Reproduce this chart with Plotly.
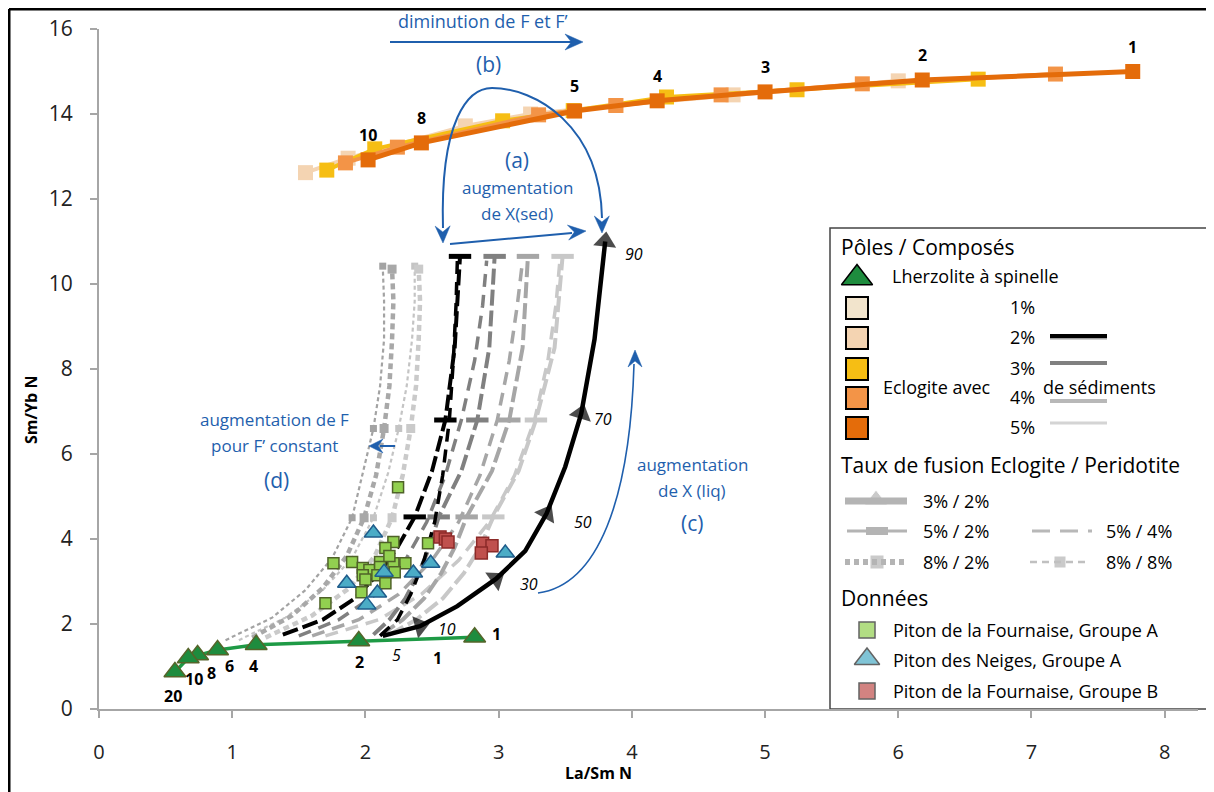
import math
import plotly.graph_objects as go

# ---------------- DATA ----------------
# Eclogite melts (F eclogite %, labels) for 2..5 % sediments
ecl_F = ["1", "2", "3", "4", "5", "8", "10"]
ecl_sed5_x = [7.76, 6.18, 5.00, 4.19, 3.57, 2.42, 2.02]
ecl_sed5_y = [15.00, 14.80, 14.52, 14.31, 14.07, 13.32, 12.92]
ecl_sed4_x = [7.18, 5.73, 4.67, 3.88, 3.30, 2.24, 1.85]
ecl_sed4_y = [14.94, 14.71, 14.45, 14.20, 13.98, 13.22, 12.85]
ecl_sed3_x = [6.60, 5.24, 4.26, 3.56, 3.03, 2.07, 1.71]
ecl_sed3_y = [14.82, 14.57, 14.40, 14.08, 13.84, 13.18, 12.68]
ecl_sed2_x = [6.00, 4.76, 3.88, 3.24, 2.75, 1.87, 1.55]
ecl_sed2_y = [14.78, 14.45, 14.20, 14.00, 13.72, 12.96, 12.62]

# Spinel lherzolite melts (F peridotite %)
lhz_F = ["1", "2", "4", "6", "8", "10", "20"]
lhz_x = [2.82, 1.95, 1.18, 0.89, 0.74, 0.67, 0.57]
lhz_y = [1.69, 1.60, 1.51, 1.39, 1.27, 1.20, 0.87]

# Mixing 3%/2% (2% sediments), % of eclogite liquid 0..90
mix_pct = ["0", "10", "20", "30", "40", "50", "60", "70", "80", "90"]
mix32_x = [2.13, 2.41, 2.69, 2.98, 3.20, 3.36, 3.50, 3.62, 3.72, 3.80]
mix32_y = [1.72, 1.95, 2.42, 3.06, 3.72, 4.60, 5.70, 6.95, 8.70, 11.00]

# Mixing 5%/2% (sediments 2,3,4,5 %)
mix52_y = [1.75, 2.10, 2.60, 3.20, 3.80, 4.52, 5.60, 6.80, 8.50, 10.65]
mix52_sed2_x = [1.38, 1.68, 1.92, 2.10, 2.24, 2.37, 2.50, 2.60, 2.67, 2.71]
mix52_sed3_x = [2.06, 2.18, 2.30, 2.40, 2.48, 2.55, 2.72, 2.84, 2.93, 2.97]
mix52_sed4_x = [2.12, 2.28, 2.44, 2.57, 2.67, 2.76, 2.95, 3.08, 3.18, 3.22]
mix52_sed5_x = [2.18, 2.38, 2.58, 2.74, 2.86, 2.96, 3.15, 3.28, 3.42, 3.48]

# Mixing 5%/4%
mix54_y = [1.72, 2.10, 2.70, 3.50, 4.40, 5.50, 6.80, 8.20, 9.50, 10.55]
mix54_sed2_x = [2.11, 2.24, 2.34, 2.44, 2.52, 2.58, 2.63, 2.66, 2.68, 2.69]
mix54_sed3_x = [1.50, 1.80, 2.08, 2.30, 2.46, 2.60, 2.72, 2.82, 2.88, 2.91]
mix54_sed4_x = [1.60, 1.95, 2.25, 2.50, 2.70, 2.86, 2.99, 3.08, 3.14, 3.18]
mix54_sed5_x = [1.70, 2.10, 2.42, 2.70, 2.93, 3.12, 3.27, 3.37, 3.43, 3.46]

# Mixing 8%/2%
mix82_y = [1.68, 2.20, 2.85, 3.60, 4.50, 5.50, 6.60, 7.60, 8.70, 9.60, 10.35]
mix82_a_x = [1.15, 1.45, 1.68, 1.86, 1.99, 2.08, 2.14, 2.18, 2.20, 2.21, 2.20]
mix82_b_x = [1.25, 1.60, 1.88, 2.07, 2.20, 2.28, 2.34, 2.38, 2.40, 2.41, 2.40]

# Mixing 8%/8%
mix88_y = [1.62, 2.15, 2.80, 3.55, 4.50, 5.55, 6.60, 7.60, 8.70, 9.60, 10.42]
mix88_a_x = [0.95, 1.30, 1.55, 1.75, 1.90, 1.98, 2.06, 2.11, 2.14, 2.14, 2.13]
mix88_b_x = [1.05, 1.40, 1.68, 1.90, 2.06, 2.17, 2.25, 2.31, 2.35, 2.37, 2.37]

# Data
pdf_a_x = [2.245, 1.76, 1.90, 2.21, 2.15, 2.47, 1.98, 2.03, 2.11, 2.11, 2.21, 2.30,
           2.22, 2.09, 1.98, 2.15, 1.97, 1.70, 2.00, 2.18]
pdf_a_y = [5.22, 3.43, 3.46, 3.93, 3.79, 3.90, 3.32, 3.27, 3.46, 3.34, 3.43, 3.43,
           3.22, 3.15, 3.15, 2.96, 2.75, 2.49, 3.05, 3.60]
pdn_a_x = [2.06, 2.49, 2.36, 1.86, 2.09, 2.01, 3.05, 2.14]
pdn_a_y = [4.14, 3.43, 3.20, 2.96, 2.73, 2.45, 3.67, 3.22]
pdf_b_x = [2.56, 2.60, 2.62, 2.88, 2.95, 2.87]
pdf_b_y = [4.05, 4.00, 3.93, 3.90, 3.84, 3.67]

x_ticks = [0, 1, 2, 3, 4, 5, 6, 7, 8]
y_ticks = [0, 2, 4, 6, 8, 10, 12, 14, 16]

# ---------------- LAYOUT GEOMETRY ----------------
# page sits with an 8px body margin: figure is 1206x784
W, H = 1206, 784
ML, MR, MT, MB = 91, 16, 21, 83
XR = [0, 8.25]
YR = [0, 16]
PW, PH = W - ML - MR, H - MT - MB
PAGE_L, PAGE_B = 99, 709  # plot-area left / bottom in page pixels


def dx(px):
    return XR[0] + (px - PAGE_L) / PW * (XR[1] - XR[0])


def dy(py):
    return YR[0] + (PAGE_B - py) / PH * (YR[1] - YR[0])


def px2paper(px):
    return (px - PAGE_L) / PW


def py2paper(py):
    return (PAGE_B - py) / PH


BLUE = "#1F5FAD"
SED_COL = {1: "#F2E4CC", 2: "#F4D4B2", 3: "#F6BE14", 4: "#F39447", 5: "#E46C0A"}
GR = {2: "#000000", 3: "#808080", 4: "#A6A6A6", 5: "#C8C8C8"}

fig = go.Figure()


def line_trace(x, y, color, width, dash):
    fig.add_trace(go.Scatter(x=x, y=y, mode="lines", hoverinfo="skip",
                             line=dict(color=color, width=width, dash=dash),
                             showlegend=False))


def mark_trace(x, y, idx, symbol, color, size, lw=0):
    fig.add_trace(go.Scatter(
        x=[x[i] for i in idx], y=[y[i] for i in idx], mode="markers",
        hoverinfo="skip", showlegend=False,
        marker=dict(symbol=symbol, color=color, size=size,
                    line=dict(color=color, width=lw))))


# 8%/8% and 8%/2% curves (left family)
line_trace(mix88_b_x, mix88_y, "#C4C4C4", 2.2, "4px,3px")
mark_trace(mix88_b_x, mix88_y, [4, 6, 10], "square", "#C4C4C4", 7)
line_trace(mix82_b_x, mix82_y, "#CACACA", 4.5, "6px,4px")
mark_trace(mix82_b_x, mix82_y, [4, 6, 10], "square", "#CACACA", 9)
line_trace(mix88_a_x, mix88_y, "#A3A3A3", 2.2, "4px,3px")
mark_trace(mix88_a_x, mix88_y, [4, 6, 10], "square", "#A3A3A3", 7)
line_trace(mix82_a_x, mix82_y, "#A8A8A8", 4.5, "6px,4px")
mark_trace(mix82_a_x, mix82_y, [4, 6, 10], "square", "#A8A8A8", 9)

# 5%/4% (long dash) and 5%/2% (dash + bar markers)
for sx, col in [(mix54_sed5_x, GR[5]), (mix54_sed4_x, GR[4]), (mix54_sed3_x, GR[3])]:
    line_trace(sx, mix54_y, col, 3.5, "13px,8px")
for sx, col in [(mix52_sed5_x, GR[5]), (mix52_sed4_x, GR[4]), (mix52_sed3_x, GR[3])]:
    line_trace(sx, mix52_y, col, 4, "16px,5px")
    mark_trace(sx, mix52_y, [5, 7, 9], "line-ew", col, 16, 5)
line_trace(mix54_sed2_x, mix54_y, "#000000", 3.5, "13px,8px")
line_trace(mix52_sed2_x, mix52_y, "#000000", 4, "16px,5px")
mark_trace(mix52_sed2_x, mix52_y, [5, 7, 9], "line-ew", "#000000", 16, 5)

# 3%/2% solid black with triangles
tri_sizes = [0 if i % 2 == 0 else 20 for i in range(len(mix32_x))]
fig.add_trace(go.Scatter(
    x=mix32_x, y=mix32_y, mode="lines+markers", hoverinfo="skip", showlegend=False,
    line=dict(color="#000000", width=4.5),
    marker=dict(symbol="triangle-up", size=tri_sizes, color="#000000",
                angle=0, angleref="previous", line=dict(width=0))))

# Lherzolite melting line
fig.add_trace(go.Scatter(
    x=lhz_x, y=lhz_y, mode="lines+markers", hoverinfo="skip", showlegend=False,
    line=dict(color="#1E9A45", width=3.5),
    marker=dict(symbol="triangle-up", size=19, color="#1E8C3E",
                line=dict(color="#55652A", width=1.5))))

# Data points
fig.add_trace(go.Scatter(x=pdf_a_x, y=pdf_a_y, mode="markers", showlegend=False,
                         marker=dict(symbol="square", size=11, color="#92D050",
                                     line=dict(color="#4F6228", width=1.5))))
fig.add_trace(go.Scatter(x=pdn_a_x, y=pdn_a_y, mode="markers", showlegend=False,
                         marker=dict(symbol="triangle-up", size=16, color="#4BACC6",
                                     line=dict(color="#1F5C8B", width=1.5))))
fig.add_trace(go.Scatter(x=pdf_b_x, y=pdf_b_y, mode="markers", showlegend=False,
                         marker=dict(symbol="square", size=12, color="#C0504D",
                                     line=dict(color="#8C2A28", width=1.5))))

# Eclogite melt lines
for ex, ey, s, w in [(ecl_sed2_x, ecl_sed2_y, 2, 4), (ecl_sed3_x, ecl_sed3_y, 3, 4),
                     (ecl_sed4_x, ecl_sed4_y, 4, 4), (ecl_sed5_x, ecl_sed5_y, 5, 5)]:
    fig.add_trace(go.Scatter(x=ex, y=ey, mode="lines+markers", hoverinfo="skip",
                             showlegend=False, line=dict(color=SED_COL[s], width=w),
                             marker=dict(symbol="square", size=15, color=SED_COL[s])))

annotations = []


def txt(text, px, py, size=16, color="black", xanchor="center", bold=False,
        italic=False, family="Open Sans", angle=0):
    t = text
    if bold:
        t = "<b>" + t + "</b>"
    if italic:
        t = "<i>" + t + "</i>"
    annotations.append(dict(x=px2paper(px), y=py2paper(py), xref="paper", yref="paper",
                            text=t, showarrow=False, xanchor=xanchor, yanchor="middle",
                            textangle=angle, borderpad=0,
                            font=dict(size=size, color=color, family=family)))


# labels on eclogite line (above dark-orange points)
for lab, x, y in zip(ecl_F, ecl_sed5_x, ecl_sed5_y):
    annotations.append(dict(x=x, y=y, text="<b>" + lab + "</b>", showarrow=False,
                            yshift=25, font=dict(size=16, color="black", family="Open Sans")))

# labels on lherzolite line
lhz_off = {"1": (22, -3), "2": (1, 21), "4": (-3, 21), "6": (12, 16), "8": (14, 18),
           "10": (6, 21), "20": (-2, 24)}
for lab, x, y in zip(lhz_F, lhz_x, lhz_y):
    ox, oy = lhz_off[lab]
    annotations.append(dict(x=x, y=y, text="<b>" + lab + "</b>", showarrow=False,
                            xshift=ox, yshift=-oy,
                            font=dict(size=16, color="black", family="Open Sans")))

# mixing % labels
mix_off = {"10": (27, 3), "30": (33, 5), "50": (36, 8), "70": (22, 5), "90": (29, 12)}
for lab, x, y in zip(mix_pct, mix32_x, mix32_y):
    if lab in mix_off:
        ox, oy = mix_off[lab]
        annotations.append(dict(x=x, y=y, text="<i>" + lab + "</i>", showarrow=False,
                                xshift=ox, yshift=-oy,
                                font=dict(size=16, color="black", family="Open Sans")))
txt("5", 396, 655, 16, italic=True)
txt("1", 437, 658, 16, bold=True)

# blue annotations
txt("diminution de F et F’", 483, 21, 18, BLUE)
txt("(b)", 488, 64, 21, BLUE)
txt("(a)", 517, 160, 21, BLUE)
txt("augmentation", 517, 188, 17, BLUE)
txt("de X(sed)", 517, 213, 17, BLUE)
txt("augmentation", 692, 465, 17, BLUE)
txt("de X (liq)", 692, 490, 17, BLUE)
txt("(c)", 692, 523, 21, BLUE)
txt("augmentation de F", 274, 420, 17, BLUE)
txt("pour F’ constant", 274, 445, 17, BLUE)
txt("(d)", 276, 480, 21, BLUE)

# axis titles
txt("La/Sm N", 598, 773, 16, bold=True)
txt("Sm/Yb N", 31, 410, 16, bold=True, angle=-90)

shapes = []


def pts(lst):
    return " ".join(f"{dx(a):.4f},{dy(b):.4f}" for a, b in lst)


def path_shape(d, color=BLUE, width=2, fill=None):
    s = dict(type="path", path=d, xref="x", yref="y", line=dict(color=color, width=width))
    if fill:
        s["fillcolor"] = fill
        s["line"] = dict(color=fill, width=0.5)
    shapes.append(s)


def curve_path(p0, c1, c2, p1):
    return (f"M {dx(p0[0]):.4f},{dy(p0[1]):.4f} C {dx(c1[0]):.4f},{dy(c1[1]):.4f} "
            f"{dx(c2[0]):.4f},{dy(c2[1]):.4f} {dx(p1[0]):.4f},{dy(p1[1]):.4f}")


def arrowhead(tip, d, L=16, Wd=14):
    n = math.hypot(*d)
    ux, uy = d[0] / n, d[1] / n
    px_, py_ = -uy, ux
    bx, by = tip[0] - L * ux, tip[1] - L * uy
    nx, ny = tip[0] - 0.65 * L * ux, tip[1] - 0.65 * L * uy
    p = [tip, (bx + Wd / 2 * px_, by + Wd / 2 * py_), (nx, ny),
         (bx - Wd / 2 * px_, by - Wd / 2 * py_)]
    d_ = "M " + " L ".join(f"{dx(a):.4f},{dy(b):.4f}" for a, b in p) + " Z"
    path_shape(d_, fill=BLUE)


# top arrow
path_shape(f"M {pts([(390, 42)])} L {pts([(572, 42)])}")
arrowhead((583, 42), (1, 0), 18, 16)
# arc (b)
path_shape(curve_path((443, 228), (440, 120), (468, 88), (492, 88)))
path_shape(curve_path((492, 88), (535, 88), (600, 125), (602, 218)))
arrowhead((443, 243), (0.02, 1), 17, 15)
arrowhead((602, 233), (0.01, 1), 17, 15)
# straight arrow (a)
path_shape(f"M {pts([(450, 244)])} L {pts([(572, 233)])}")
arrowhead((586, 231), (135, -12), 18, 15)
# arc (c)
path_shape(curve_path((538, 593), (598, 585), (630, 500), (634, 364)), width=1.6)
arrowhead((635, 350), (0.0, -1), 17, 14)
# arrow (d)
path_shape(f"M {pts([(395, 446)])} L {pts([(380, 446)])}")
arrowhead((369, 446), (-1, 0), 14, 14)

# outer frame (left and top)
shapes.append(dict(type="line", xref="paper", yref="paper", x0=px2paper(9), x1=px2paper(1220),
                   y0=py2paper(9), y1=py2paper(9), line=dict(color="black", width=3)))
shapes.append(dict(type="line", xref="paper", yref="paper", x0=px2paper(9), x1=px2paper(9),
                   y0=py2paper(9), y1=py2paper(800), line=dict(color="black", width=3)))

# ---------------- LEGEND (drawn) ----------------
shapes.append(dict(type="rect", xref="paper", yref="paper", x0=px2paper(830), x1=px2paper(1222),
                   y0=py2paper(709), y1=py2paper(228), line=dict(color="#444444", width=1.5),
                   layer="below"))
txt("Pôles / Composés", 840, 247, 21, xanchor="left")
txt("Taux de fusion Eclogite / Peridotite", 840, 465, 21, xanchor="left")
txt("Données", 840, 598, 21, xanchor="left")
txt("Lherzolite à spinelle", 891, 276, 18, xanchor="left")
txt("Eclogite avec", 882, 387, 18, xanchor="left")
txt("de sédiments", 1042, 387, 18, xanchor="left")
sed_pct = ["1%", "2%", "3%", "4%", "5%"]
sed_py = [307, 337, 368, 397, 427]
for lab, py in zip(sed_pct, sed_py):
    txt(lab, 1009, py, 18, xanchor="left")

fig.add_trace(go.Scatter(x=[dx(857)], y=[dy(278)], mode="markers", showlegend=False,
                         hoverinfo="skip", cliponaxis=False,
                         marker=dict(symbol="triangle-up", size=27, color="#1E8C3E",
                                     line=dict(color="black", width=1.5))))
fig.add_trace(go.Scatter(x=[dx(857)] * 5, y=[dy(p) for p in [308, 338, 369, 398, 428]],
                         mode="markers", showlegend=False, hoverinfo="skip",
                         marker=dict(symbol="square", size=22,
                                     color=[SED_COL[i] for i in range(1, 6)],
                                     line=dict(color="black", width=2))))


def lg_line(x0, x1, py, color, width, dash="solid"):
    shapes.append(dict(type="line", xref="x", yref="y", x0=dx(x0), x1=dx(x1),
                       y0=dy(py), y1=dy(py), line=dict(color=color, width=width, dash=dash)))


lg_line(1050, 1107, 338, "#A0A0A0", 3)
lg_line(1050, 1107, 336, "#000000", 4)
lg_line(1050, 1107, 363, "#808080", 4)
lg_line(1050, 1107, 401, "#B8B8B8", 4)
lg_line(1050, 1107, 423, "#D4D4D4", 3)

# fusion-rate legend
lg_line(845, 907, 501, "#B4B4B4", 7)
lg_line(847, 907, 531, "#B4B4B4", 3)
lg_line(866, 888, 531, "#B4B4B4", 8)
lg_line(1032, 1092, 531, "#B8B8B8", 3, "18px,10px")
lg_line(845, 907, 562, "#B4B4B4", 6, "5px,4px")
lg_line(1030, 1090, 562, "#C0C0C0", 2.5, "7px,5px")
fig.add_trace(go.Scatter(x=[dx(876), dx(877), dx(1060)], y=[dy(500), dy(562), dy(562)],
                         mode="markers", showlegend=False, hoverinfo="skip",
                         marker=dict(symbol=["triangle-up", "square", "square"],
                                     size=[20, 14, 12], color="#B4B4B4")))
txt("3% / 2%", 922, 501, 18, xanchor="left")
txt("5% / 2%", 922, 531, 18, xanchor="left")
txt("5% / 4%", 1105, 531, 18, xanchor="left")
txt("8% / 2%", 922, 562, 18, xanchor="left")
txt("8% / 8%", 1105, 562, 18, xanchor="left")

# data legend
fig.add_trace(go.Scatter(x=[dx(867), dx(867), dx(867)], y=[dy(630), dy(659), dy(691)],
                         mode="markers", showlegend=False, hoverinfo="skip",
                         marker=dict(symbol=["square", "triangle-up", "square"],
                                     size=[16, 22, 16],
                                     color=["#92D050", "#4BACC6", "#C0504D"],
                                     line=dict(color="#222222", width=1.5))))
txt("Piton de la Fournaise, Groupe A", 892, 630, 18, xanchor="left")
txt("Piton des Neiges, Groupe A", 892, 660, 18, xanchor="left")
txt("Piton de la Fournaise, Groupe B", 892, 691, 18, xanchor="left")

fig.update_layout(
    width=W, height=H, margin=dict(l=ML, r=MR, t=MT, b=MB),
    paper_bgcolor="white", plot_bgcolor="white",
    font=dict(family="Open Sans", color="black"),
    xaxis=dict(range=XR, tickvals=x_ticks, ticktext=[str(v) for v in x_ticks],
               showgrid=False, zeroline=False, showline=True, linecolor="#A6A6A6",
               linewidth=2, ticks="outside", ticklen=7, tickwidth=2, tickcolor="#A6A6A6",
               tickfont=dict(size=20, family="Open Sans", color="#222222"),
               ticklabelstandoff=17, automargin=False),
    yaxis=dict(range=YR, tickvals=y_ticks, ticktext=[str(v) for v in y_ticks],
               showgrid=False, zeroline=False, showline=True, linecolor="#A6A6A6",
               linewidth=2, ticks="outside", ticklen=7, tickwidth=2, tickcolor="#A6A6A6",
               tickfont=dict(size=21, family="Open Sans", color="#222222"),
               ticklabelstandoff=13, automargin=False),
    annotations=annotations, shapes=shapes, showlegend=False,
)
fig.update_traces(cliponaxis=False)

fig.write_html("out.html")
